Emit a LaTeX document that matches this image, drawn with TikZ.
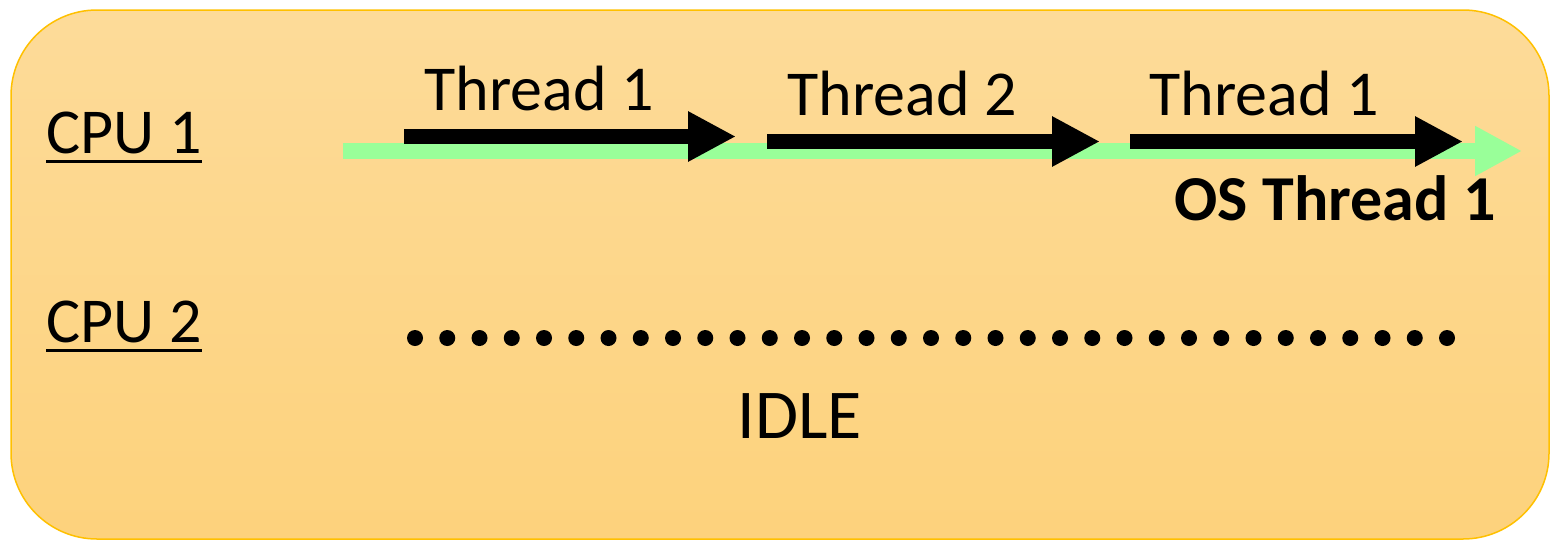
\documentclass[tikz,border=0pt]{standalone}
\usepackage{fontspec}
\setmainfont{Carlito}
\usetikzlibrary{arrows.meta,calc}
\definecolor{panelTop}{RGB}{253,219,153}
\definecolor{panelBottom}{RGB}{253,210,124}
\definecolor{panelEdge}{RGB}{255,192,0}
\definecolor{osGreen}{RGB}{153,255,153}
\tikzset{
  label text/.style={inner sep=0pt, anchor=base west, font=\fontsize{32pt}{36pt}\selectfont},
  os text/.style={label text, font=\fontsize{32pt}{36pt}\selectfont\bfseries},
  idle text/.style={label text, font=\fontsize{35pt}{40pt}\selectfont},
  os line/.style={draw=osGreen, line width=8pt, line cap=butt,
    -{Triangle[length=23.5pt,width=23.5pt]}},
  task arrow/.style={draw=black, line width=7.5pt, line cap=butt,
    -{Triangle[length=24pt,width=23.5pt]}},
  cpu rule/.style={draw=black, line width=1.5pt},
  idle dot/.style={fill=black},
}
\begin{document}
\begin{tikzpicture}[x=0.5pt,y=-0.5pt]
  \useasboundingbox (0,0) rectangle (1551,541);

  % rounded panel
  \shade[top color=panelTop, bottom color=panelBottom, draw=panelEdge,
         line width=0.75pt, rounded corners=43pt]
    (11,10) rectangle (1549,539);

  % CPU labels
  \node[label text] (cpu1) at (46,153) {CPU 1};
  \node[label text] (cpu2) at (46,342) {CPU 2};
  \draw[cpu rule] ($(cpu1.base west)+(0,8)$) -- ($(cpu1.base east)+(0,8)$);
  \draw[cpu rule] ($(cpu2.base west)+(0,8)$) -- ($(cpu2.base east)+(0,8)$);

  % OS thread timeline on CPU 1
  \coordinate (osStart) at (343,151);
  \coordinate (osEnd) at (1522,151);
  \draw[os line] (osStart) -- (osEnd);
  \node[os text] (osLabel) at (1174,220) {OS Thread 1};

  % user threads scheduled on the OS thread
  \coordinate (t1s) at (404,136.5);  \coordinate (t1e) at (736,136.5);
  \coordinate (t2s) at (767,141.5);  \coordinate (t2e) at (1100,141.5);
  \coordinate (t3s) at (1130,141.5); \coordinate (t3e) at (1463,141.5);
  \draw[task arrow] (t1s) -- (t1e);
  \draw[task arrow] (t2s) -- (t2e);
  \draw[task arrow] (t3s) -- (t3e);
  \node[label text] (t1label) at (424,110) {Thread 1};
  \node[label text] (t2label) at (787,115) {Thread 2};
  \node[label text] (t3label) at (1149,115) {Thread 1};

  % CPU 2 is idle
  \foreach \i in {0,...,32}
    \fill[idle dot] (415+\i*32.25,338) circle[radius=4pt];
  \node[idle text] (idle) at (737,438) {IDLE};
\end{tikzpicture}
\end{document}
